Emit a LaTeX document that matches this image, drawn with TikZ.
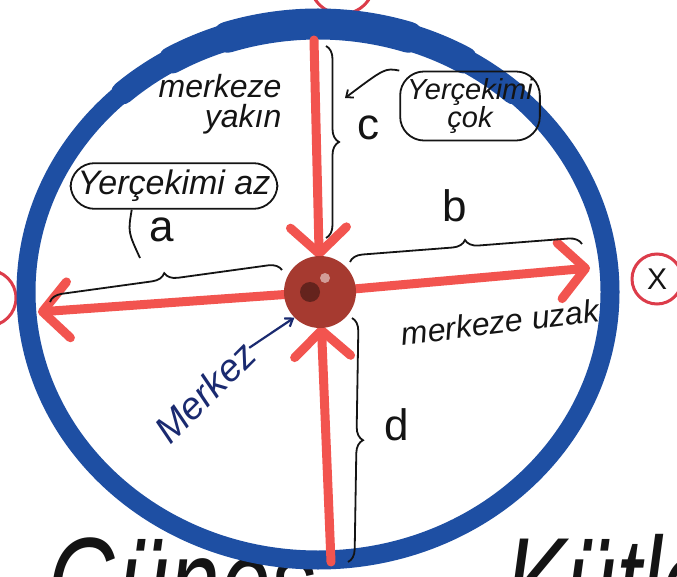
\documentclass[tikz,border=0pt]{standalone}
\usepackage{fontspec}
\setmainfont{Liberation Sans}
\usetikzlibrary{arrows.meta,decorations.pathreplacing}
\definecolor{ringblue}{HTML}{1E4FA3}
\definecolor{arrred}{HTML}{F2544F}
\definecolor{ballred}{HTML}{A63A30}
\definecolor{inkblue}{HTML}{1A2A70}
\definecolor{ink}{HTML}{141414}
\definecolor{circred}{HTML}{DC3C4A}
\begin{document}
\begin{tikzpicture}[x=1pt,y=-1pt,
  ring/.style={draw=ringblue,line width=19pt},
  ringthick/.style={draw=ringblue,line cap=round},
  redarrow/.style={draw=arrred,line width=9pt,line cap=round,
    -{Straight Barb[length=26pt,width=56pt,round]}},
  bracestyle/.style={draw=ink,line width=1.8pt,decorate,
    decoration={brace,amplitude=13pt}},
  hand/.style={font=\itshape\fontsize{32}{30}\selectfont,text=ink,inner sep=0pt},
  letter/.style={font=\fontsize{44}{44}\selectfont,text=ink,inner sep=0pt},
  bubble/.style={draw=ink,line width=1.8pt,rounded corners=24pt,inner sep=7pt,
    text=ink},
  redcirc/.style={draw=circred,line width=3pt}]
\clip (0,0) rectangle (677,577);
\fill[white] (0,0) rectangle (677,577);
% bottom big text (partly cut)
\node[anchor=base west,font=\itshape\fontsize{130}{130}\selectfont,text=ink,xscale=0.7,inner sep=0pt] (bigA) at (48,628) {Güneş};
\node[anchor=base west,font=\itshape\fontsize{130}{130}\selectfont,text=ink,xscale=0.7,inner sep=0pt] (bigB) at (505,628) {Kütle};
% red marker circles
\draw[redcirc] (342,-18) circle (32);
\draw[redcirc] (-12,298) circle (28);
\node[redcirc,circle,minimum size=50pt,inner sep=0pt,font=\fontsize{30}{30}\selectfont,text=ink] (X) at (657,279) {X};
% ring
\draw[ring] (318,292) ellipse (292 and 268);
\draw[ringthick,line width=23pt] (318,292) ++(228:292 and 268) arc (228:312:292 and 268);
\draw[ringthick,line width=27pt] (318,292) ++(240:292 and 268) arc (240:300:292 and 268);
\draw[ringthick,line width=31pt] (318,292) ++(252:292 and 268) arc (252:288:292 and 268);
% arrows
\coordinate (c) at (320,292);
\coordinate (topend) at (314,40);
\coordinate (botend) at (331,562);
\coordinate (leftend) at (38,312);
\coordinate (rightend) at (590,268);
\draw[redarrow,shorten >=34pt] (topend) -- (c);
\draw[redarrow,shorten >=34pt] (botend) -- (c);
\draw[redarrow,shorten <=20pt] (c) -- (leftend);
\draw[redarrow,shorten <=20pt] (c) -- (rightend);
\node[circle,fill=ballred,minimum size=72pt,inner sep=0pt] (ball) at (c) {};
\fill[ballred!60!black] (310,292) circle (10);
\fill[white,opacity=0.5] (325,278) circle (5);
% braces
\coordinate (c1) at (326,46);  \coordinate (c2) at (326,238);
\coordinate (d1) at (352,318); \coordinate (d2) at (348,562);
\coordinate (a1) at (50,302);  \coordinate (a2) at (282,270);
\coordinate (b1) at (350,262); \coordinate (b2) at (582,244);
\draw[bracestyle] (c1) -- (c2);
\draw[bracestyle] (d1) -- (d2);
\draw[bracestyle] (a1) -- (a2);
\draw[bracestyle] (b1) -- (b2);
\node[letter] (la) at (162,230) {a};
\node[letter] (lb) at (455,206) {b};
\node[letter] (lc) at (368,128) {c};
\node[letter] (ld) at (397,425) {d};
% labels
\node[hand,align=right] (yakin) at (220,104) {merkeze\\yakın};
\node[hand,rotate=7] (uzak) at (500,322) {merkeze uzak};
\node[hand,text=inkblue,rotate=45,font=\itshape\fontsize{38}{38}\selectfont] (merkez) at (205,392) {Merkez};
\draw[inkblue,line width=2.2pt,-{Straight Barb[length=7pt,width=10pt]}] (merkez.east) -- (ball.south west);
% bubbles
\node[bubble,font=\itshape\fontsize{34}{34}\selectfont] (bubA) at (174,186) {Yerçekimi az};
\coordinate (tailA) at (140,258);
\draw[ink,line width=1.8pt] ([xshift=62pt]bubA.south west) .. controls (128,232) .. (tailA);
\node[bubble,align=center,font=\itshape\fontsize{29}{26}\selectfont] (bubC) at (470,106) {Yerçekimi\\çok};
\coordinate (cptr) at (345,98);
\draw[ink,line width=1.8pt,-{Straight Barb[length=6pt,width=10pt]}] (bubC.north west) .. controls (385,68) .. (cptr);
\end{tikzpicture}
\end{document}
